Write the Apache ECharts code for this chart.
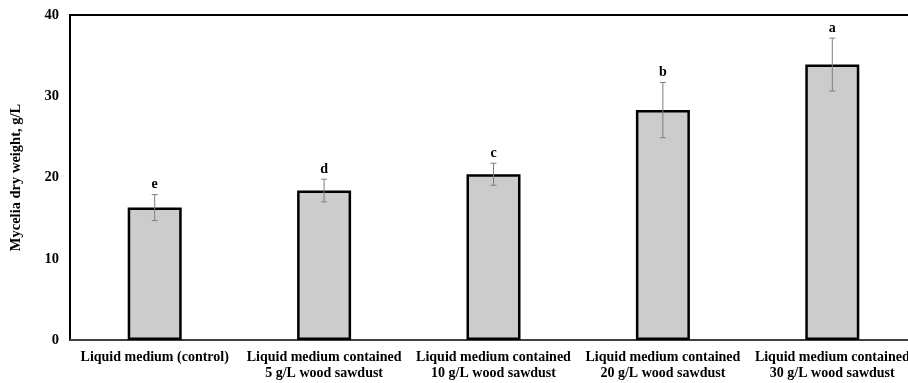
<!DOCTYPE html>
<html>
<head>
<meta charset="utf-8">
<script src="https://cdn.jsdelivr.net/npm/echarts@6/dist/echarts.min.js"></script>
<style>html,body{margin:0;padding:0;background:#fff;overflow:hidden;}#c{width:908px;height:383px;}</style>
</head>
<body>
<div id="c"></div>
<script>
const categories = [
  "Liquid medium (control)",
  "Liquid medium contained\n5 g/L wood sawdust",
  "Liquid medium contained\n10 g/L wood sawdust",
  "Liquid medium contained\n20 g/L wood sawdust",
  "Liquid medium contained\n30 g/L wood sawdust"
];
const means = [16.3, 18.4, 20.4, 28.3, 33.9];
const errors = [1.6, 1.4, 1.35, 3.4, 3.25];
const letters = ["e", "d", "c", "b", "a"];
const yTicks = { min: 0, max: 40, interval: 10 };

const font = "'Liberation Serif', 'Times New Roman', serif";
const chart = echarts.init(document.getElementById('c'));
const errData = means.map((m, i) => [i, m - errors[i], m + errors[i], letters[i]]);

chart.setOption({
  animation: false,
  grid: { left: 70, top: 15, width: 847, height: 325, containLabel: false, outerBoundsMode: 'none', show: true, borderColor: '#000', borderWidth: 2, backgroundColor: 'transparent' },
  xAxis: {
    type: 'category',
    data: categories,
    axisLine: { lineStyle: { color: '#404040', width: 2 } },
    axisTick: { show: false },
    axisLabel: { interval: 0, margin: 9, fontFamily: font, fontWeight: 'bold', fontSize: 14, color: '#000', lineHeight: 16, hideOverlap: false }
  },
  yAxis: {
    type: 'value',
    min: yTicks.min, max: yTicks.max, interval: yTicks.interval,
    name: 'Mycelia dry weight, g/L',
    nameLocation: 'middle',
    nameGap: 46,
    nameTextStyle: { fontFamily: font, fontWeight: 'bold', fontSize: 14.5, color: '#000' },
    axisLine: { show: true, lineStyle: { color: '#000', width: 2 } },
    axisTick: { show: false },
    splitLine: { show: false },
    axisLabel: { margin: 11, fontFamily: font, fontWeight: 'bold', fontSize: 14.5, color: '#000' }
  },
  series: [
    {
      type: 'bar',
      data: means,
      barWidth: 54,
      itemStyle: { color: '#cccccc', borderColor: '#000', borderWidth: 2.5 }
    },
    {
      type: 'custom',
      data: errData,
      z: 10,
      renderItem: function (params, api) {
        const x = api.value(0);
        const lo = api.coord([x, api.value(1)]);
        const hi = api.coord([x, api.value(2)]);
        const hw = 3;
        const st = { stroke: '#7f7f7f', lineWidth: 1 };
        return {
          type: 'group',
          children: [
            { type: 'line', shape: { x1: hi[0], y1: hi[1], x2: lo[0], y2: lo[1] }, style: st },
            { type: 'line', shape: { x1: hi[0] - hw, y1: hi[1], x2: hi[0] + hw, y2: hi[1] }, style: st },
            { type: 'line', shape: { x1: lo[0] - hw, y1: lo[1], x2: lo[0] + hw, y2: lo[1] }, style: st },
            { type: 'text', style: { text: letters[params.dataIndex], x: hi[0], y: hi[1] - 3, textAlign: 'center', textVerticalAlign: 'bottom', fontFamily: font, fontWeight: 'bold', fontSize: 14, fill: '#000' } }
          ]
        };
      }
    }
  ]
});
</script>
</body>
</html>
